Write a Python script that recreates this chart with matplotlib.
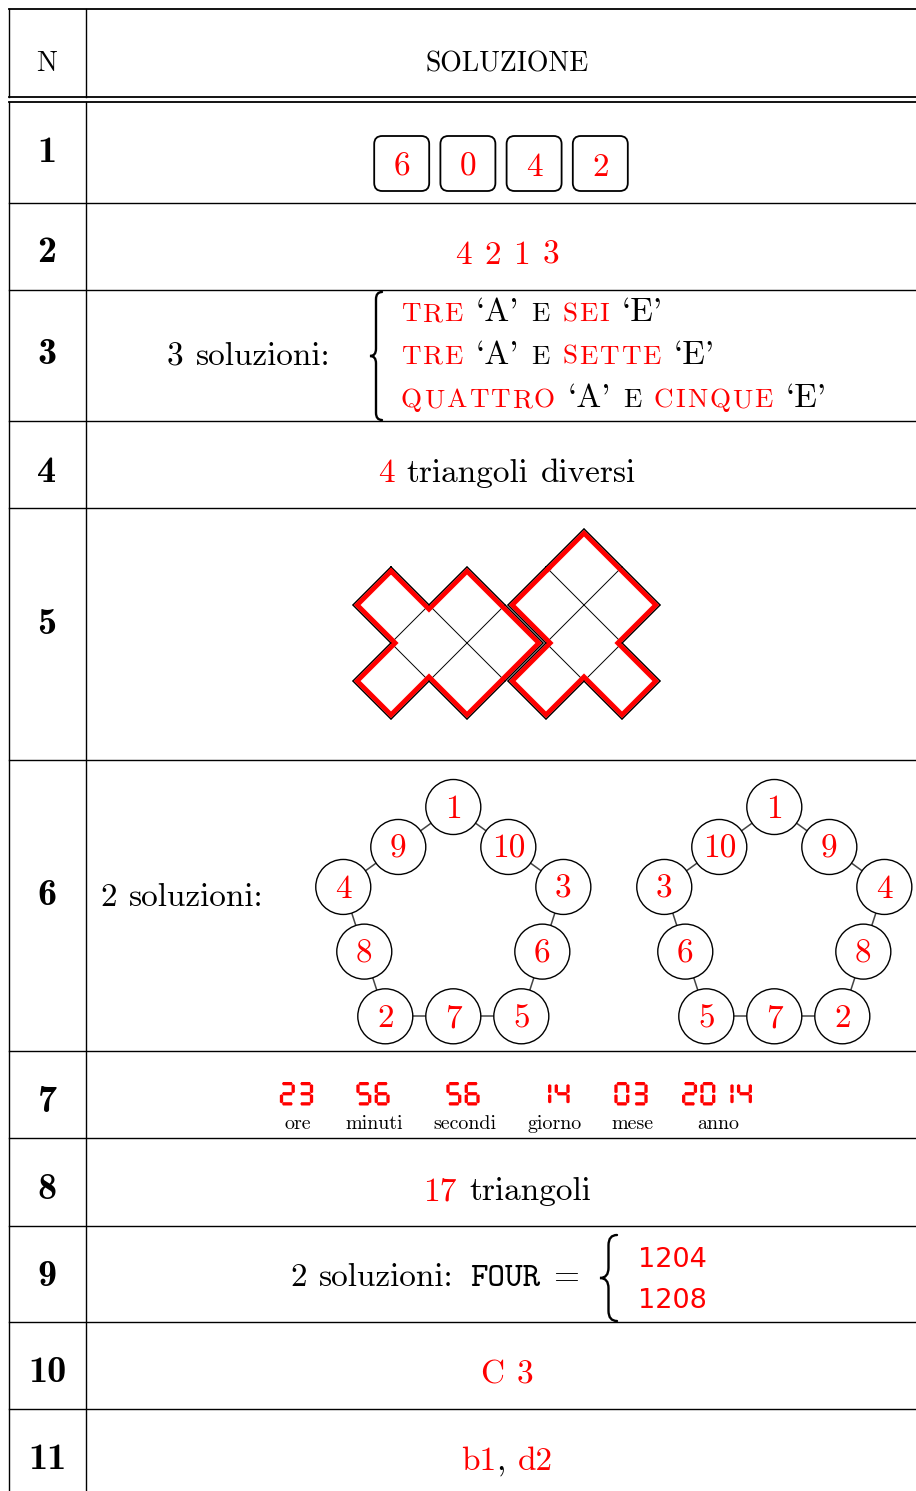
import numpy as np
import matplotlib.pyplot as plt
from matplotlib.patches import Circle, FancyBboxPatch, Polygon, PathPatch
from matplotlib.path import Path

RED = '#ff0000'

# ---- data -------------------------------------------------------------
row_labels = ['1', '2', '3', '4', '5', '6', '7', '8', '9', '10', '11']
box_digits = ['6', '0', '4', '2']
answer2 = ['4', '2', '1', '3']
sol3 = [('TRE', 'SEI'), ('TRE', 'SETTE'), ('QUATTRO', 'CINQUE')]
answer4 = '4'
left_piece = [(1, 0), (3, 0), (2, 1), (1, 2), (3, 2), (4, 1)]
right_piece = [(6, -1), (5, 0), (7, 0), (6, 1), (5, 2), (7, 2)]
ring_a = ['1', '10', '3', '6', '5', '7', '2', '8', '4', '9']
ring_b = ['1', '9', '4', '8', '2', '7', '5', '6', '3', '10']
clock_values = ['23', '56', '56', '14', '03', '2014']
clock_names = ['ore', 'minuti', 'secondi', 'giorno', 'mese', 'anno']
answer8 = '17'
four_values = ['1204', '1208']
answer10 = ['C', '3']
answer11 = ['b1', 'd2']

# ---- layout -----------------------------------------------------------
W, H = 916, 1491
XL, XD, XR = 9, 86, 916
XC = 507
header_y = [9, 96.7, 102.3]
row_bottoms = [203, 290, 421, 508, 760, 1051, 1138, 1226, 1322, 1409]
num_mid = [150, 250, 352, 470, 622, 893, 1100, 1187, 1274, 1370, 1457]

STYLES = {
    'rm': ('cmr10', 24),
    'sc': ('cmr10', 19.5),
    'hd': ('cmr10', 20),
    'bf': ('cmb10', 27.5),
    'tt': ('cmtt10', 24),
    'sf': ('DejaVu Sans', 19.5),
    'lab': ('cmr10', 14.4),
}
SPACE = 12.5
TRACK = 2.0   # extra letter spacing for the fake small caps

fig = plt.figure(figsize=(W / 100, H / 100), dpi=100)
ax = fig.add_axes([0, 0, 1, 1])
ax.set_xlim(0, W)
ax.set_ylim(H, 0)
ax.axis('off')
rend = fig.canvas.get_renderer()


def put(x, y, s, style, color='black', ha='left'):
    fam, size = STYLES[style]
    return ax.text(x, y, s, fontfamily=fam, fontsize=size, color=color,
                   ha=ha, va='baseline')


def width(s, style):
    t = put(0, 0, s, style)
    w = t.get_window_extent(renderer=rend).width
    t.remove()
    return w


def runs_line(x, y, runs, ha='left'):
    # lay out words one after another (no real spaces, cmr10 has none)
    pieces = []
    gap = 0.0
    for txt, style, color in runs:
        for k, wd in enumerate(txt.split(' ')):
            if k > 0:
                gap = SPACE
            if not wd:
                continue
            if style == 'sc':
                for m, ch in enumerate(wd):
                    pieces.append((ch, style, color, gap if m == 0 else TRACK))
            else:
                pieces.append((wd, style, color, gap))
            gap = 0.0
    ws = [width(w, st) for w, st, c, g in pieces]
    total = sum(ws) + sum(g for *_, g in pieces)
    cur = x - total / 2 if ha == 'center' else x
    for (wd, st, c, g), wdt in zip(pieces, ws):
        cur += g
        put(cur, y, wd, st, c)
        cur += wdt


def brace(x_tip, x_end, y0, y1, lw=1.7):
    xm = (x_tip + x_end) / 2
    ym = (y0 + y1) / 2
    c = (x_end - x_tip) * 0.6
    verts = [(x_end, y0), (xm, y0), (xm, y0 + c), (xm, ym - c), (xm, ym), (x_tip, ym),
             (xm, ym), (xm, ym + c), (xm, y1 - c), (xm, y1), (x_end, y1)]
    codes = [Path.MOVETO, Path.CURVE3, Path.CURVE3, Path.LINETO, Path.CURVE3, Path.CURVE3,
             Path.CURVE3, Path.CURVE3, Path.LINETO, Path.CURVE3, Path.CURVE3]
    ax.add_patch(PathPatch(Path(verts, codes), fill=False, lw=lw, capstyle='round'))


# ---- table rules ------------------------------------------------------
for yh in header_y:
    ax.plot([XL, XR], [yh, yh], color='k', lw=1.3)
for yb in row_bottoms:
    ax.plot([XL, XR], [yb, yb], color='k', lw=1.0)
for xv in (XL, XD):
    ax.plot([xv, xv], [header_y[0], header_y[1]], color='k', lw=1.0)
    ax.plot([xv, xv], [header_y[2], H], color='k', lw=1.0)

put(47, 71, 'N', 'hd', ha='center')
put(XC, 71, 'SOLUZIONE', 'hd', ha='center')

for lab, ym in zip(row_labels, num_mid):
    put(47, ym + 12.3, lab, 'bf', ha='center')

# ---- 1: boxed digits --------------------------------------------------
bw, pitch = 55, 66.2
bx0 = 501 - (pitch * (len(box_digits) - 1) + bw) / 2
for k, d in enumerate(box_digits):
    x = bx0 + k * pitch
    ax.add_patch(FancyBboxPatch((x, 136), bw, 55, boxstyle='round,pad=0,rounding_size=8',
                                fc='none', ec='k', lw=1.3))
    put(x + bw / 2, 176, d, 'rm', RED, ha='center')

# ---- 2 ----------------------------------------------------------------
runs_line(XC, 264, [(' '.join(answer2), 'rm', RED)], ha='center')

# ---- 3 ----------------------------------------------------------------
runs_line(167, 365, [('3 soluzioni:', 'rm', 'k')])
brace(370, 382, 292, 420)
for (na, ne), yb in zip(sol3, [321, 364, 407]):
    runs_line(401, yb, [(na, 'sc', RED), (" `A'", 'rm', 'k'), (' E', 'sc', 'k'),
                        (' ' + ne, 'sc', RED), (" `E'", 'rm', 'k')])

# ---- 4 ----------------------------------------------------------------
runs_line(XC, 482, [(answer4, 'rm', RED), (' triangoli diversi', 'rm', 'k')], ha='center')

# ---- 5: diamond pieces ------------------------------------------------
X0, Y0, S = 353, 605, 38


def cell_edges(i, j):
    v = [(i - 1, j), (i, j - 1), (i + 1, j), (i, j + 1)]
    return [frozenset((v[k], v[(k + 1) % 4])) for k in range(4)]


def draw_piece(cells, shift):
    to_px = lambda p: (X0 + S * p[0] + shift, Y0 + S * p[1])
    count = {}
    for c in cells:
        for e in cell_edges(*c):
            count[e] = count.get(e, 0) + 1
    for e in count:
        a, b = [to_px(p) for p in e]
        ax.plot([a[0], b[0]], [a[1], b[1]], color='k', lw=0.7, zorder=2)
    # chain boundary into a loop
    adj = {}
    for e, n in count.items():
        if n == 1:
            a, b = tuple(e)
            adj.setdefault(a, []).append(b)
            adj.setdefault(b, []).append(a)
    start = next(iter(adj))
    loop, prev, cur = [start], None, start
    while True:
        nxt = [q for q in adj[cur] if q != prev][0]
        if nxt == start:
            break
        loop.append(nxt)
        prev, cur = cur, nxt
    pts = np.array([to_px(p) for p in loop], float)
    area = 0.5 * np.sum(pts[:, 0] * np.roll(pts[:, 1], -1) - np.roll(pts[:, 0], -1) * pts[:, 1])
    n = len(pts)
    normals = []
    for k in range(n):
        d = pts[(k + 1) % n] - pts[k]
        d = d / np.hypot(*d)
        out = np.array([d[1], -d[0]]) if area > 0 else np.array([-d[1], d[0]])
        normals.append(-out)
    inner = []
    for k in range(n):
        n1, n2 = normals[k - 1], normals[k]
        inner.append(pts[k] + (n1 + n2) / (1 + n1 @ n2) * 3.0)
    inner = np.array(inner + [inner[0]])
    closed = np.vstack([pts, pts[:1]])
    ax.plot(closed[:, 0], closed[:, 1], color='k', lw=1.0, zorder=3, solid_joinstyle='miter')
    ax.plot(inner[:, 0], inner[:, 1], color=RED, lw=3.4, zorder=4, solid_joinstyle='miter')


draw_piece(left_piece, 0)
draw_piece(right_piece, 3)

# ---- 6: pentagons -----------------------------------------------------
runs_line(100, 906, [('2 soluzioni:', 'rm', 'k')])


def pentagon(cx, cy, labels, R=115.7, r=27.5):
    verts = [(cx + R * np.cos(np.radians(-90 + 72 * k)), cy + R * np.sin(np.radians(-90 + 72 * k)))
             for k in range(5)]
    pts = []
    for k in range(5):
        a, b = verts[k], verts[(k + 1) % 5]
        pts += [a, ((a[0] + b[0]) / 2, (a[1] + b[1]) / 2)]
    for k in range(10):
        a, b = pts[k], pts[(k + 1) % 10]
        ax.plot([a[0], b[0]], [a[1], b[1]], color='#444444', lw=1.1, zorder=1)
    for p, lab in zip(pts, labels):
        ax.add_patch(Circle(p, r, fc='white', ec='k', lw=1.0, zorder=2))
        fam, size = STYLES['rm']
        ax.text(p[0], p[1] + 10.7, lab, fontfamily=fam, fontsize=size, color=RED,
                ha='center', va='baseline', zorder=3)


pentagon(453.3, 922.7, ring_a)
pentagon(774.3, 922.7, ring_b)

# ---- 7: seven segment clock -------------------------------------------
SEGS = {'0': 'abcdef', '1': 'bc', '2': 'abged', '3': 'abgcd', '4': 'fgbc',
        '5': 'afgcd', '6': 'afgedc', '7': 'abc', '8': 'abcdefg', '9': 'abcdfg'}


def seven(x, y, ch, w=15, h=23.5, t=3.3, g=0.5):
    xl, xr = x + t / 2, x + w - t / 2
    yt, ym, yb = y + t / 2, y + h / 2, y + h - t / 2
    c = t * 0.3

    def hseg(yc):
        return [(xl + g, yc), (xl + g + c, yc - t / 2), (xr - g - c, yc - t / 2),
                (xr - g, yc), (xr - g - c, yc + t / 2), (xl + g + c, yc + t / 2)]

    def vseg(xc, y1, y2):
        return [(xc, y1 + g), (xc + t / 2, y1 + g + c), (xc + t / 2, y2 - g - c),
                (xc, y2 - g), (xc - t / 2, y2 - g - c), (xc - t / 2, y1 + g + c)]

    shapes = {'a': hseg(yt), 'g': hseg(ym), 'd': hseg(yb), 'f': vseg(xl, yt, ym),
              'b': vseg(xr, yt, ym), 'e': vseg(xl, ym, yb), 'c': vseg(xr, ym, yb)}
    for s in SEGS[ch]:
        ax.add_patch(Polygon(shapes[s], closed=True, fc=RED, ec='none'))


clock_x = [296.5, 373, 463, 553, 631, 717]
for val, name, cx in zip(clock_values, clock_names, clock_x):
    gw = 18.3 * (len(val) - 1) + 15
    for k, ch in enumerate(val):
        seven(cx - gw / 2 + 18.3 * k, 1082, ch)
    put(cx + 1.5, 1129, name, 'lab', ha='center')

# ---- 8 ----------------------------------------------------------------
runs_line(XC, 1200.5, [(answer8, 'rm', RED), (' triangoli', 'rm', 'k')], ha='center')

# ---- 9 ----------------------------------------------------------------
runs_line(290, 1286, [('2 soluzioni:', 'rm', 'k')])
put(470, 1286, 'FOUR', 'tt')
put(553, 1286, '=', 'rm')
brace(600, 617, 1235, 1321)
for val, yb in zip(four_values, [1267, 1308]):
    put(638, yb, val, 'sf', RED)

# ---- 10, 11 -----------------------------------------------------------
runs_line(XC, 1383, [(' '.join(answer10), 'rm', RED)], ha='center')
runs_line(XC, 1470, [(answer11[0], 'rm', RED), (',', 'rm', 'k'), (' ' + answer11[1], 'rm', RED)],
          ha='center')

fig.savefig('out.png', dpi=100)
